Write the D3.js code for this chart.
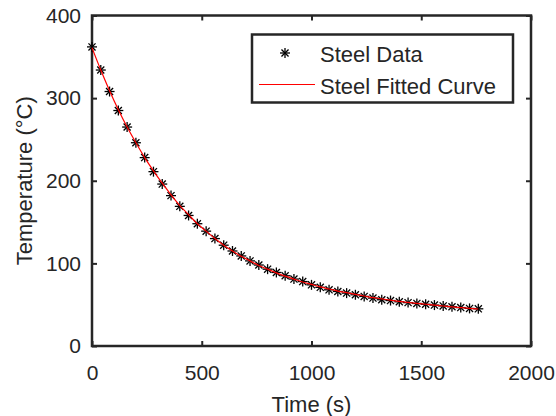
<!DOCTYPE html>
<html>
<head>
<meta charset="utf-8">
<script src="https://cdn.jsdelivr.net/npm/d3@7"></script>
<style>
  body { margin: 0; background: #fff; }
  text { font-family: "Liberation Sans", Arial, sans-serif; fill: #262626; }
</style>
</head>
<body>
<div id="chart"></div>
<script>
//***************** data *******************/
var times = [0, 40, 80, 120, 160, 200, 240, 280, 320, 360, 400, 440, 480, 520, 560, 600,
  640, 680, 720, 760, 800, 840, 880, 920, 960, 1000, 1040, 1080, 1120, 1160, 1200, 1240,
  1280, 1320, 1360, 1400, 1440, 1480, 1520, 1560, 1600, 1640, 1680, 1720, 1760];
var steelData = [362, 334, 308, 285, 265, 246, 228, 211, 196, 182, 169, 158, 148, 139, 130, 122,
  115, 109, 103, 98, 93, 89, 85, 81, 78, 74, 71, 68, 66, 64, 62, 60,
  58, 56, 55, 53.5, 52.5, 51.5, 50.5, 49.5, 48.5, 47.5, 46.5, 45.5, 45];
var steelFit = [361, 334, 309, 286, 265, 246, 228, 212, 197, 183, 170, 159, 148, 139, 130, 122,
  115, 108.5, 103, 97.5, 93, 88.5, 84.5, 81, 77.5, 74.5, 71.5, 69, 66.5, 64.5, 62.5, 60.5,
  58.5, 57, 55.5, 54, 52.8, 51.6, 50.5, 49.4, 48.4, 47.4, 46.5, 45.6, 44.8];
var xTicks = [0, 500, 1000, 1500, 2000];
var yTicks = [0, 100, 200, 300, 400];
var legendLabels = ["Steel Data", "Steel Fitted Curve"];

//************* set dimensions ***************/
var W = 556, H = 416;
var plot = {left: 92, right: 531, top: 15.5, bottom: 346};
var ink = "#262626";

var svg = d3.select("#chart").append("svg")
    .attr("width", W)
    .attr("height", H);

var x = d3.scaleLinear().domain([0, 2000]).range([plot.left, plot.right]);
var y = d3.scaleLinear().domain([0, 400]).range([plot.bottom, plot.top]);

//***************** axes *******************/
function styleAxis(g) {
  g.select(".domain").remove();
  g.selectAll(".tick line").attr("stroke", ink).attr("stroke-width", 2);
  g.selectAll(".tick text").attr("fill", ink).style("font-size", "21px");
}

svg.append("g")
  .attr("transform", "translate(0," + plot.bottom + ")")
  .call(d3.axisBottom(x).tickValues(xTicks).tickSize(-5).tickPadding(19).tickFormat(d3.format("d")))
  .call(styleAxis);
svg.append("g")
  .attr("transform", "translate(0," + plot.top + ")")
  .call(d3.axisTop(x).tickValues(xTicks).tickSize(-5).tickFormat(""))
  .call(styleAxis);
svg.append("g")
  .attr("transform", "translate(" + plot.left + ",0)")
  .call(d3.axisLeft(y).tickValues(yTicks).tickSize(-5).tickPadding(11).tickFormat(d3.format("d")))
  .call(styleAxis);
svg.append("g")
  .attr("transform", "translate(" + plot.right + ",0)")
  .call(d3.axisRight(y).tickValues(yTicks).tickSize(-5).tickFormat(""))
  .call(styleAxis);

// box
svg.append("rect")
  .attr("x", plot.left).attr("y", plot.top)
  .attr("width", plot.right - plot.left)
  .attr("height", plot.bottom - plot.top)
  .attr("fill", "none")
  .attr("stroke", ink)
  .attr("stroke-width", 2.5);

// labels
svg.append("text")
  .attr("x", (plot.left + plot.right) / 2)
  .attr("y", 412)
  .attr("text-anchor", "middle")
  .style("font-size", "22px")
  .text("Time (s)");
svg.append("text")
  .attr("transform", "translate(32," + (plot.top + plot.bottom) / 2 + ") rotate(-90)")
  .attr("text-anchor", "middle")
  .style("font-size", "22px")
  .text("Temperature (\u00B0C)");

//***************** marks *******************/
function asterisk(g, r) {
  var d = r * Math.SQRT1_2;
  g.append("line").attr("x1", -r).attr("x2", r).attr("y1", 0).attr("y2", 0);
  g.append("line").attr("x1", 0).attr("x2", 0).attr("y1", -r).attr("y2", r);
  g.append("line").attr("x1", -d).attr("x2", d).attr("y1", -d).attr("y2", d);
  g.append("line").attr("x1", -d).attr("x2", d).attr("y1", d).attr("y2", -d);
}

var line = d3.line()
  .x(function(d, i) { return x(times[i]); })
  .y(function(d) { return y(d); })
  .curve(d3.curveMonotoneX);

svg.selectAll(".pt")
  .data(steelData)
  .enter().append("g")
    .attr("class", "pt")
    .attr("transform", function(d, i) { return "translate(" + x(times[i]) + "," + y(d) + ")"; })
    .attr("stroke", "#000")
    .attr("stroke-width", 1.3)
    .each(function() { asterisk(d3.select(this), 5); });

svg.append("path")
  .datum(steelFit)
  .attr("d", line)
  .attr("fill", "none")
  .attr("stroke", "#ff0000")
  .attr("stroke-width", 1.2);

//***************** legend *******************/
var leg = svg.append("g");
leg.append("rect")
  .attr("x", 252).attr("y", 34.5)
  .attr("width", 261).attr("height", 68)
  .attr("fill", "#fff")
  .attr("stroke", ink)
  .attr("stroke-width", 2.5);
leg.append("g")
  .attr("transform", "translate(285,53)")
  .attr("stroke", "#000")
  .attr("stroke-width", 1.3)
  .call(asterisk, 5);
leg.append("line")
  .attr("x1", 259).attr("x2", 315)
  .attr("y1", 84.5).attr("y2", 84.5)
  .attr("stroke", "#ff0000")
  .attr("stroke-width", 1.2);
leg.selectAll(".lt")
  .data(legendLabels)
  .enter().append("text")
    .attr("class", "lt")
    .attr("x", 320)
    .attr("y", function(d, i) { return 61.5 + i * 32; })
    .style("font-size", "22px")
    .attr("fill", "#000")
    .text(function(d) { return d; });
</script>
</body>
</html>
